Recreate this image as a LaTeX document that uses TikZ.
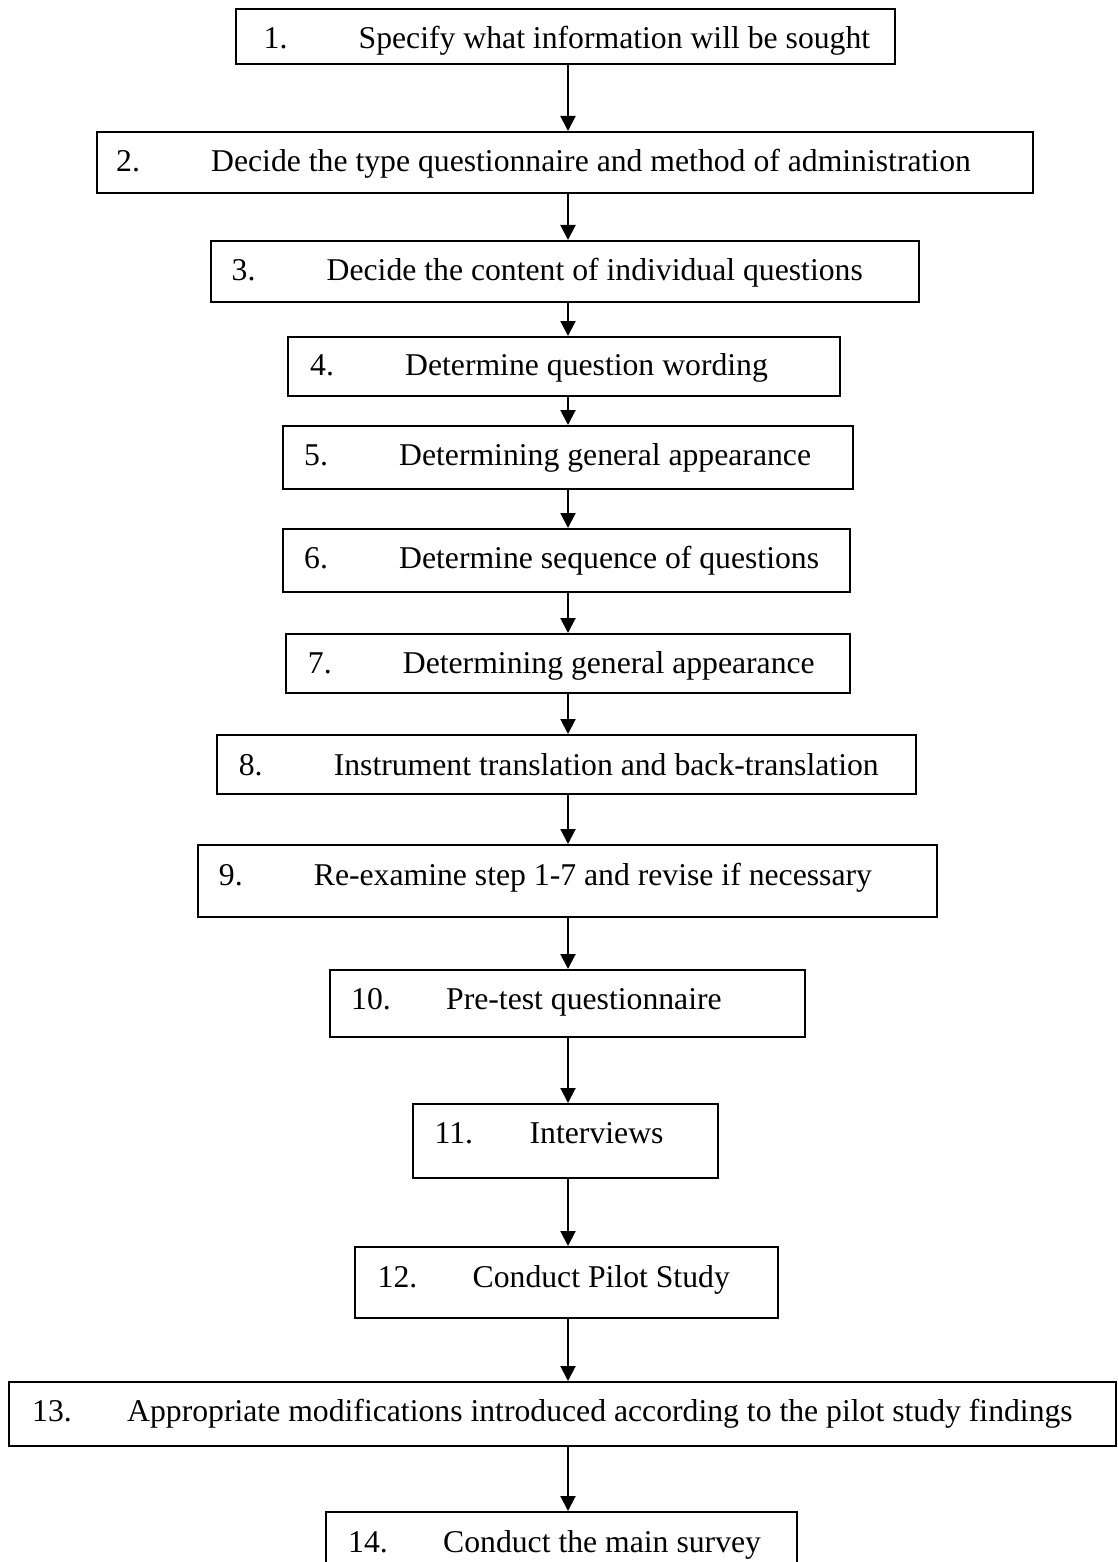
\documentclass[tikz,border=0pt]{standalone}
\usepackage{fontspec}
\setmainfont{Liberation Serif}
\usetikzlibrary{arrows.meta}

\tikzset{
  stepbox/.style={draw=black, line width=2pt, rectangle, inner sep=0pt},
  steptext/.style={anchor=base west, inner sep=0pt, font=\fontsize{31.7pt}{36pt}\selectfont},
  flow/.style={draw=black, line width=2pt, -{Triangle[length=15pt,width=15pt]}}
}
% a numbered step: number in a fixed-width slot, then the wording
\newcommand{\stepline}[2]{\makebox[95pt][l]{#1}#2}
% \boxat{name}{left}{top}{right}{bottom}
\newcommand{\boxat}[5]{%
  \node[stepbox, minimum width=#4pt-#2pt, minimum height=#5pt-#3pt]
    (#1) at ({(#2+#4)/2}, {(#3+#5)/2}) {};}

\begin{document}
\begin{tikzpicture}[x=1pt, y=-1pt]
  \useasboundingbox (0,0) rectangle (1117,1562);
  \fill[white] (0,0) rectangle (1117,1562);
  \coordinate (axis) at (568,0);

  % boxes
  \boxat{b1}{236}{9}{895}{64}
  \boxat{b2}{97}{132}{1033}{193}
  \boxat{b3}{211}{241}{919}{302}
  \boxat{b4}{288}{337}{840}{396}
  \boxat{b5}{283}{426}{853}{489}
  \boxat{b6}{283}{529}{850}{592}
  \boxat{b7}{286}{634}{850}{693}
  \boxat{b8}{217}{735}{916}{794}
  \boxat{b9}{198}{845}{937}{917}
  \boxat{b10}{330}{970}{805}{1037}
  \boxat{b11}{413}{1104}{718}{1178}
  \boxat{b12}{355}{1247}{778}{1318}
  \boxat{b13}{9}{1382}{1116}{1446}
  \boxat{b14}{326}{1512}{797}{1580}

  % wording
  \node[steptext] (t1)  at (263.5,48.5)  {\stepline{1.}{Specify what information will be sought}};
  \node[steptext] (t2)  at (116,171.7)   {\stepline{2.}{Decide the type questionnaire and method of administration}};
  \node[steptext] (t3)  at (231.5,280)   {\stepline{3.}{Decide the content of individual questions}};
  \node[steptext] (t4)  at (310,375)     {\stepline{4.}{Determine question wording}};
  \node[steptext] (t5)  at (304,465)     {\stepline{5.}{Determining general appearance}};
  \node[steptext] (t6)  at (304,568.3)   {\stepline{6.}{Determine sequence of questions}};
  \node[steptext] (t7)  at (307.7,673.3) {\stepline{7.}{Determining general appearance}};
  \node[steptext] (t8)  at (238.6,775)   {\stepline{8.}{Instrument translation and back-translation}};
  \node[steptext] (t9)  at (218.7,885)   {\stepline{9.}{Re-examine step 1-7 and revise if necessary}};
  \node[steptext] (t10) at (351,1009.3)  {\stepline{10.}{Pre-test questionnaire}};
  \node[steptext] (t11) at (434.5,1143.3){\stepline{11.}{Interviews}};
  \node[steptext] (t12) at (377.5,1287.3){\stepline{12.}{Conduct Pilot Study}};
  \node[steptext] (t13) at (32,1421.7)   {\stepline{13.}{Appropriate modifications introduced according to the pilot study findings}};
  \node[steptext] (t14) at (348,1552.5)  {\stepline{14.}{Conduct the main survey}};

  % connectors
  \foreach \a/\b in {b1/b2,b2/b3,b3/b4,b4/b5,b5/b6,b6/b7,b7/b8,b8/b9,b9/b10,b10/b11,b11/b12,b12/b13,b13/b14}
    \draw[flow] (\a.south -| axis) -- (\b.north -| axis);
\end{tikzpicture}
\end{document}
